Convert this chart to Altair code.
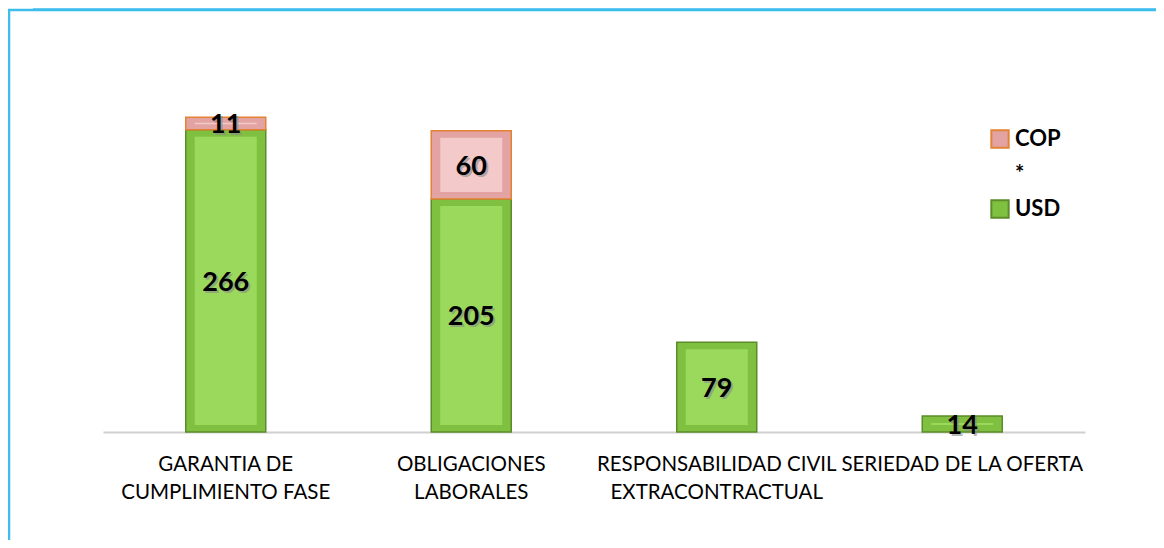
import altair as alt
import pandas as pd

categories = ["GARANTIA DE\nCUMPLIMIENTO FASE", "OBLIGACIONES\nLABORALES",
              "RESPONSABILIDAD CIVIL\nEXTRACONTRACTUAL", "SERIEDAD DE LA OFERTA"]
usd = [266, 205, 79, 14]
cop = [11, 60, 0, 0]
series = ["COP", "*", "USD"]
outer_fill = ["#e3a3a3", "transparent", "#80c040"]
outer_stroke = ["#e38232", "transparent", "#5c8c2a"]
inner_fill = ["#f3c9c9", "#9bd95c"]

rows = []
for c, u, p in zip(categories, usd, cop):
    rows.append({"cat": c, "serie": "USD", "value": u, "ord": 0})
    if p > 0:
        rows.append({"cat": c, "serie": "COP", "value": p, "ord": 1})
df = pd.DataFrame(rows)

base = alt.Chart(df).transform_stack(
    stack="value", groupby=["cat"], as_=["v0", "v1"],
    sort=[alt.SortField("ord", order="ascending")]
).transform_calculate(mid="(datum.v0 + datum.v1) / 2")

x = alt.X("cat:N", sort=categories, title=None,
          scale=alt.Scale(paddingInner=0, paddingOuter=0),
          axis=alt.Axis(labelExpr="split(datum.label, '\\n')", labelAngle=0,
                        labelFont="Lato", labelFontSize=20.5, labelColor="#000000",
                        labelLineHeight=28, labelBaseline="top", labelPadding=22,
                        ticks=False, domainColor="#d0d0d0", domainWidth=2,
                        labelLimit=400))
yscale = alt.Scale(domain=[0, 300], nice=False)
y = alt.Y("v1:Q", scale=yscale, axis=None)

legend = alt.Legend(orient="none", legendX=886, legendY=37)

outer = base.mark_bar(width=80, strokeWidth=1.5).encode(
    x=x, y=y, y2="v0:Q",
    color=alt.Color("serie:N", scale=alt.Scale(domain=series, range=outer_fill),
                    title=None, legend=legend),
    stroke=alt.Stroke("serie:N", scale=alt.Scale(domain=series, range=outer_stroke),
                      title=None, legend=legend),
)

inner = base.mark_bar(width=62, yOffset=7, y2Offset=-7).encode(
    x=x, y=y, y2="v0:Q",
    fill=alt.Fill("serie:N", scale=alt.Scale(domain=["COP", "USD"], range=inner_fill),
                  legend=None),
)

shadow = base.mark_text(font="Lato", fontSize=27, fontWeight="bold", color="#8a8a8a",
                        dx=2, dy=4, opacity=0.6).encode(
    x=x, y=alt.Y("mid:Q", scale=yscale, axis=None), text="value:Q")
labels = base.mark_text(font="Lato", fontSize=27, fontWeight="bold", color="#000000",
                        dy=2).encode(
    x=x, y=alt.Y("mid:Q", scale=yscale, axis=None), text="value:Q")

frame_df = pd.DataFrame({"k": [0]})
glow = alt.Chart(frame_df).mark_rect(
    color=alt.Gradient(gradient="linear", x1=0, y1=0, x2=0, y2=1,
                       stops=[alt.GradientStop(color="#ffffff", offset=0),
                              alt.GradientStop(color="#5cc8f0", offset=1)])
).encode(x=alt.value(-70), x2=alt.value(2000), y=alt.value(-91), y2=alt.value(-81))
frame = alt.Chart(frame_df).mark_rect(fill="transparent", stroke="#3dbdec",
                                      strokeWidth=2.5).encode(
    x=alt.value(-94), x2=alt.value(2000), y=alt.value(-81), y2=alt.value(1000))

chart = alt.layer(glow, frame, outer, inner, shadow, labels).properties(
    width=982, height=341,
    autosize=alt.AutoSizeParams(type="none"),
    padding={"left": 95, "top": 83, "right": 71, "bottom": 108},
    background="#ffffff"
).configure_view(stroke=None).configure_legend(
    symbolType="square", symbolSize=300, symbolStrokeWidth=2,
    labelFont="Lato", labelFontSize=22, labelFontWeight="bold",
    labelColor="#000000", rowPadding=9, padding=0, symbolOpacity=1
)

chart.save("out.html", embed_options={"renderer": "svg", "actions": False})
